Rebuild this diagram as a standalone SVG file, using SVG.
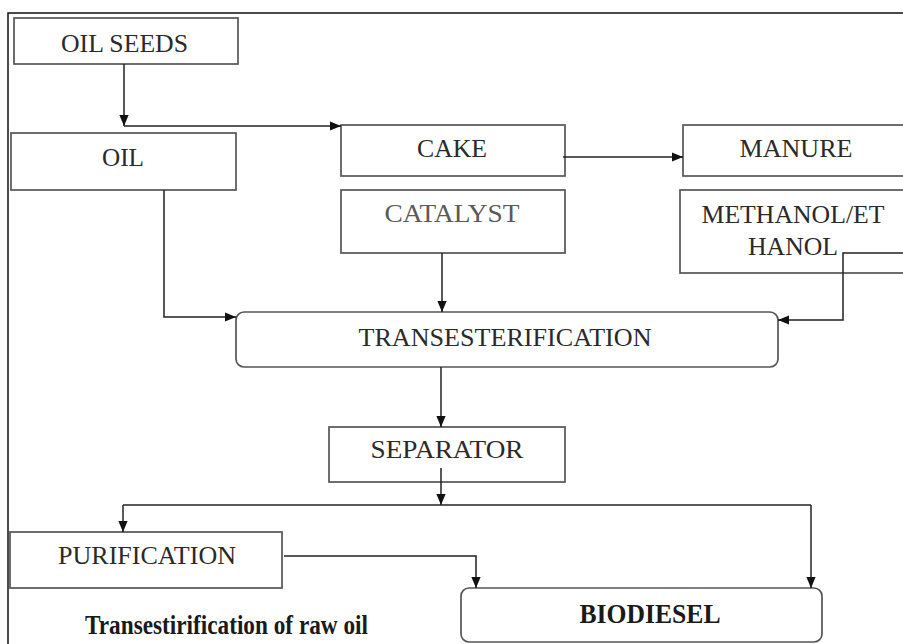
<svg xmlns="http://www.w3.org/2000/svg" width="903" height="644" viewBox="0 0 903 644">
<defs>
<marker id="arr" viewBox="0 0 10 10" refX="10" refY="5" markerWidth="11" markerHeight="11" markerUnits="userSpaceOnUse" orient="auto">
<path d="M0,0.8 L10,5 L0,9.2 Z" fill="#111"/>
</marker>
<style>
.box{fill:#fff;stroke:#555;stroke-width:1.7}
.t{font-family:"Liberation Serif","Times New Roman",serif;font-size:26px;fill:#2a2a2a;text-anchor:middle}
.g{fill:#5a5a5a}
.b{font-weight:bold;font-size:27px;fill:#1a1a1a}
.c{fill:none;stroke:#222;stroke-width:1.5}
.ca{fill:none;stroke:#222;stroke-width:1.5;marker-end:url(#arr)}
</style>
</defs>
<rect width="903" height="644" fill="#fff"/>
<path d="M8 644 V13 H903" fill="none" stroke="#111" stroke-width="1.5"/>

<g id="oilseeds"><rect class="box" x="14" y="18" width="224" height="46"/><text class="t" x="124.5" y="52" textLength="127" lengthAdjust="spacingAndGlyphs">OIL SEEDS</text></g>
<g id="oil"><rect class="box" x="11" y="133" width="225" height="57"/><text class="t" x="123" y="166" textLength="42" lengthAdjust="spacingAndGlyphs">OIL</text></g>
<g id="cake"><rect class="box" x="341" y="125" width="224" height="51"/><text class="t" x="452" y="157" textLength="70" lengthAdjust="spacingAndGlyphs">CAKE</text></g>
<g id="manure"><rect class="box" x="683" y="125" width="230" height="51"/><text class="t" x="796" y="157" textLength="113" lengthAdjust="spacingAndGlyphs">MANURE</text></g>
<g id="catalyst"><rect class="box" x="341" y="190" width="224" height="63"/><text class="t g" x="452" y="222" textLength="135" lengthAdjust="spacingAndGlyphs">CATALYST</text></g>
<g id="methanol"><rect class="box" x="680" y="190" width="233" height="83"/><text class="t" x="793" y="223" textLength="183" lengthAdjust="spacingAndGlyphs">METHANOL/ET</text><text class="t" x="793" y="255" textLength="90" lengthAdjust="spacingAndGlyphs">HANOL</text></g>
<g id="trans"><rect class="box" x="236" y="312" width="542" height="55" rx="8"/><text class="t" x="505" y="346" textLength="293" lengthAdjust="spacingAndGlyphs">TRANSESTERIFICATION</text></g>
<g id="separator"><rect class="box" x="329" y="427" width="236" height="55"/><text class="t" x="447" y="458" textLength="153" lengthAdjust="spacingAndGlyphs">SEPARATOR</text></g>
<g id="purification"><rect class="box" x="10" y="532" width="272" height="56"/><text class="t" x="147" y="564" textLength="178" lengthAdjust="spacingAndGlyphs">PURIFICATION</text></g>
<g id="biodiesel"><rect class="box" x="461" y="588" width="361" height="54" rx="8"/><text class="t b" x="650" y="623" textLength="141" lengthAdjust="spacingAndGlyphs">BIODIESEL</text></g>
<g id="caption"><text class="t b" x="85" y="634" style="text-anchor:start" textLength="283" lengthAdjust="spacingAndGlyphs">Transestirification of raw oil</text></g>

<g id="connectors">
<path class="ca" d="M124 64 V126"/>
<path class="ca" d="M124 126 H341"/>
<path class="ca" d="M563 157 H683"/>
<path class="ca" d="M164 190 V317 H236"/>
<path class="ca" d="M442 253 V312"/>
<path class="ca" d="M903 253 H843 V320 H778"/>
<path class="ca" d="M441 367 V427"/>
<path class="ca" d="M441 468 V505"/>
<path class="c" d="M123 505 H811"/>
<path class="ca" d="M123 505 V532"/>
<path class="ca" d="M811 505 V588"/>
<path class="ca" d="M284 556 H476 V588"/>
</g>
</svg>
